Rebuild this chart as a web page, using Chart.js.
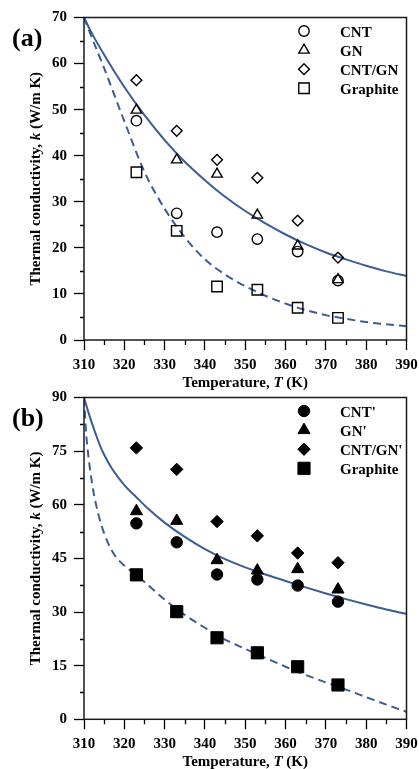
<!DOCTYPE html>
<html><head><meta charset="utf-8">
<script src="https://cdn.jsdelivr.net/npm/chart.js@4.4.1/dist/chart.umd.min.js"></script>
<style>
html,body{margin:0;padding:0;background:#fff;}
#wrap{position:relative;width:419px;height:769px;overflow:hidden;}
canvas{position:absolute;left:0;}
</style></head><body>
<div id="wrap">
<canvas id="ca" width="419" height="392" style="top:0;width:419px;height:392px"></canvas>
<canvas id="cb" width="419" height="389" style="top:380px;width:419px;height:389px"></canvas>
</div>
<script>
// ---------- data ----------
const tempCategories = [323, 333, 343, 353, 363, 373];

// panel (a): open symbols
const seriesNamesA = ['CNT', 'GN', 'CNT/GN', 'Graphite'];
const cntA      = [47.6, 27.5, 23.4, 21.9, 19.2, 12.9];
const gnA       = [49.9, 39.1, 36.0, 27.1, 20.4, 13.1];
const cntGnA    = [56.4, 45.4, 39.1, 35.2, 25.9, 17.9];
const graphiteA = [36.4, 23.7, 11.6, 10.9, 7.0, 4.8];

// panel (a) fitted curves
const curveTA       = [310, 312, 315, 320, 325, 330, 335, 340, 345, 350, 355, 360, 365, 370, 375, 380, 385, 390];
const solidCurveA   = [70, 66.5, 61.9, 54.9, 48.8, 43.4, 38.7, 34.7, 31.1, 28.0, 25.3, 22.9, 20.8, 19.0, 17.5, 16.1, 14.9, 13.9];
const dashedCurveA  = [70, 65.5, 59.0, 47.5, 36.5, 28.5, 22.3, 17.5, 14.2, 11.7, 9.6, 7.9, 6.5, 5.4, 4.6, 3.9, 3.4, 3.0];

// panel (b): filled symbols
const seriesNamesB = ["CNT'", "GN'", "CNT/GN'", 'Graphite'];
const cntB      = [54.8, 49.5, 40.5, 39.1, 37.4, 32.9];
const gnB       = [58.2, 55.5, 44.5, 41.6, 42.0, 36.3];
const cntGnB    = [75.9, 69.9, 55.3, 51.3, 46.5, 43.8];
const graphiteB = [40.4, 30.1, 22.8, 18.6, 14.7, 9.6];

// panel (b) fitted curves
const solidTB      = [310, 311, 312, 313, 314, 315, 317, 320, 323, 326, 330, 335, 340, 345, 350, 355, 360, 365, 370, 375, 380, 385, 390];
const solidCurveB  = [90, 86.2, 82.7, 79.5, 76.5, 74.0, 70.0, 65.5, 62.1, 58.8, 55.0, 51.0, 47.6, 44.8, 42.5, 40.5, 38.7, 36.9, 35.2, 33.6, 32.1, 30.7, 29.5];
const dashedTB     = [310, 310.5, 311, 312, 313, 314, 315, 316, 317, 318, 320, 323, 325, 330, 335, 340, 345, 350, 355, 360, 365, 370, 375, 380, 385, 390];
const dashedCurveB = [90, 80.5, 74.5, 66, 60, 55.5, 52, 49.2, 47, 45.3, 43, 40.3, 38.4, 33.5, 29.2, 25.6, 22.3, 19.7, 17.2, 14.7, 12.4, 10.3, 8.3, 6.2, 4.1, 2.1];

// tick labels
const xTickLabels  = [310, 320, 330, 340, 350, 360, 370, 380, 390];
const yTickLabelsA = [0, 10, 20, 30, 40, 50, 60, 70];
const yTickLabelsB = [0, 15, 30, 45, 60, 75, 90];

// ---------- styling ----------
const LINE = 'rgb(58,93,150)';
const FAM = "'Liberation Serif','Times New Roman',serif";
const TICKFONT = {family: FAM, size: 15, weight: 'bold'};

function pts(xs, ys) { return xs.map((x, i) => ({x: x, y: ys[i]})); }
function isMajor(v, list) { return list.some(m => Math.abs(m - v) < 1e-6); }

function drawMarker(ctx, style, x, y, r, filled) {
  ctx.beginPath();
  if (style === 'circle') {
    ctx.arc(x, y, r, 0, Math.PI * 2);
  } else if (style === 'triangle') {
    const s = r * Math.sin(Math.PI / 3);
    ctx.moveTo(x, y - r); ctx.lineTo(x + s, y + r / 2); ctx.lineTo(x - s, y + r / 2);
  } else if (style === 'rectRot') {
    ctx.moveTo(x, y - r); ctx.lineTo(x + r, y); ctx.lineTo(x, y + r); ctx.lineTo(x - r, y);
  } else {
    const h = r * Math.SQRT1_2;
    ctx.rect(x - h, y - h, 2 * h, 2 * h);
  }
  ctx.closePath();
  if (filled) { ctx.fillStyle = '#000'; ctx.fill(); }
  ctx.strokeStyle = '#000'; ctx.stroke();
}

function drawRich(ctx, parts, cx, baseline, size) {
  const fonts = parts.map(p => (p[1] ? 'italic bold ' : 'bold ') + size + 'px ' + FAM);
  let total = 0;
  const widths = parts.map((p, i) => { ctx.font = fonts[i]; const w = ctx.measureText(p[0]).width; total += w; return w; });
  let x = cx - total / 2;
  ctx.textAlign = 'left'; ctx.textBaseline = 'alphabetic'; ctx.fillStyle = '#000';
  parts.forEach((p, i) => { ctx.font = fonts[i]; ctx.fillText(p[0], x, baseline); x += widths[i]; });
}

const deco = {
  id: 'deco',
  afterDraw(chart, args, o) {
    const ctx = chart.ctx, ca = chart.chartArea;
    const xs = chart.scales.x, ys = chart.scales.y;
    ctx.save();
    // minor ticks
    ctx.strokeStyle = '#000'; ctx.lineWidth = 1.3;
    ctx.beginPath();
    xs.ticks.forEach(t => {
      if (!isMajor(t.value, o.xMajor)) {
        const px = Math.round(xs.getPixelForValue(t.value)) + 0.5;
        ctx.moveTo(px, ca.bottom); ctx.lineTo(px, ca.bottom + 5);
      }
    });
    ys.ticks.forEach(t => {
      if (!isMajor(t.value, o.yMajor)) {
        const py = Math.round(ys.getPixelForValue(t.value)) + 0.5;
        ctx.moveTo(ca.left, py); ctx.lineTo(ca.left - 4, py);
      }
    });
    ctx.stroke();
    // frame
    ctx.lineWidth = 1.5; ctx.strokeStyle = '#1a1a1a';
    ctx.strokeRect(ca.left, ca.top, ca.right - ca.left, ca.bottom - ca.top);
    // panel label
    ctx.fillStyle = '#000'; ctx.textAlign = 'left'; ctx.textBaseline = 'alphabetic';
    ctx.font = 'bold 26px ' + FAM;
    ctx.fillText(o.panel, 12, 45.5);
    // x title
    drawRich(ctx, [['Temperature, ', false], ['T', true], [' (K)', false]], (ca.left + ca.right) / 2, ca.bottom + 46.7, 15);
    // y title
    ctx.save();
    ctx.translate(40, (ca.top + ca.bottom) / 2);
    ctx.rotate(-Math.PI / 2);
    drawRich(ctx, [['Thermal conductivity, ', false], ['k', true], [' (W/m K)', false]], 0, 0, 15);
    ctx.restore();
    // legend (marker datasets)
    ctx.lineWidth = o.filled ? 1 : 1.4;
    const markerSets = chart.data.datasets.filter(d => !d.showLine);
    markerSets.forEach((d, i) => {
      const y = ca.top + 13.5 + i * 19.1;
      drawMarker(ctx, d.pointStyle, 304, y, d.pointRadius, o.filled);
      ctx.fillStyle = '#000'; ctx.font = 'bold 15px ' + FAM; ctx.textAlign = 'left'; ctx.textBaseline = 'alphabetic';
      ctx.fillText(d.label, 340, y + 5.5);
    });
    ctx.restore();
  }
};

function markerSet(label, vals, style, r, filled) {
  return {
    label: label, data: pts(tempCategories, vals), showLine: false,
    pointStyle: style, pointRadius: r,
    pointBackgroundColor: filled ? '#000' : 'rgba(0,0,0,0)',
    pointBorderColor: '#000', pointBorderWidth: filled ? 1 : 1.4,
    borderColor: '#000', backgroundColor: filled ? '#000' : 'rgba(0,0,0,0)'
  };
}
function curveSet(label, xs, ys, dashed) {
  return {
    label: label, data: pts(xs, ys), showLine: true, pointRadius: 0,
    borderColor: LINE, borderWidth: 2, borderDash: dashed ? [8, 5] : [],
    cubicInterpolationMode: 'monotone', fill: false
  };
}

function makeChart(id, datasets, yMax, yStep, yMajor, xAxisHeight, filled, panel) {
  return new Chart(document.getElementById(id), {
    type: 'scatter',
    data: {datasets: datasets},
    options: {
      responsive: false, animation: false, events: [],
      layout: {padding: {left: 0, right: 12.5, top: 17.5, bottom: 0}},
      scales: {
        x: {
          type: 'linear', min: 310, max: 390,
          afterFit: s => { s.height = xAxisHeight; s.paddingLeft = 0; s.paddingRight = 0; },
          ticks: {stepSize: 5, autoSkip: false, maxRotation: 0, color: '#000', font: TICKFONT, padding: 6,
                  callback: v => isMajor(v, xTickLabels) ? String(v) : ''},
          grid: {drawOnChartArea: false, drawTicks: true, tickLength: 10, tickWidth: 1.3,
                 tickColor: c => (c.tick && isMajor(c.tick.value, xTickLabels)) ? '#000' : 'rgba(0,0,0,0)'},
          border: {display: false}
        },
        y: {
          type: 'linear', min: 0, max: yMax,
          afterFit: s => { s.width = 84; s.paddingTop = 0; s.paddingBottom = 0; },
          ticks: {stepSize: yStep, autoSkip: false, color: '#000', font: TICKFONT, padding: 7,
                  callback: v => isMajor(v, yMajor) ? String(v) : ''},
          grid: {drawOnChartArea: false, drawTicks: true, tickLength: 10, tickWidth: 1.3,
                 tickColor: c => (c.tick && isMajor(c.tick.value, yMajor)) ? '#000' : 'rgba(0,0,0,0)'},
          border: {display: false}
        }
      },
      plugins: {
        legend: {display: false}, tooltip: {enabled: false},
        deco: {panel: panel, filled: filled, xMajor: xTickLabels, yMajor: yMajor}
      }
    },
    plugins: [deco]
  });
}

makeChart('ca', [
  markerSet(seriesNamesA[0], cntA, 'circle', 5.2, false),
  markerSet(seriesNamesA[1], gnA, 'triangle', 6.0, false),
  markerSet(seriesNamesA[2], cntGnA, 'rectRot', 5.4, false),
  markerSet(seriesNamesA[3], graphiteA, 'rect', 7.4, false),
  curveSet('fit solid', curveTA, solidCurveA, false),
  curveSet('fit dashed', curveTA, dashedCurveA, true)
], 70, 5, yTickLabelsA, 52, false, '(a)');

makeChart('cb', [
  markerSet(seriesNamesB[0], cntB, 'circle', 5.7, true),
  markerSet(seriesNamesB[1], gnB, 'triangle', 7.0, true),
  markerSet(seriesNamesB[2], cntGnB, 'rectRot', 6.2, true),
  markerSet(seriesNamesB[3], graphiteB, 'rect', 8.6, true),
  curveSet('fit solid', solidTB, solidCurveB, false),
  curveSet('fit dashed', dashedTB, dashedCurveB, true)
], 90, 7.5, yTickLabelsB, 49.7, true, '(b)');
</script>
</body></html>
